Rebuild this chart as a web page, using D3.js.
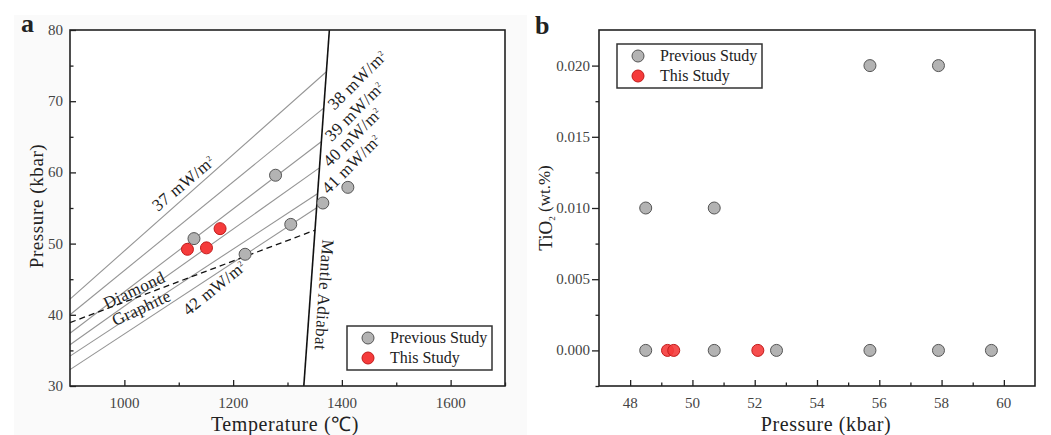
<!DOCTYPE html>
<html>
<head>
<meta charset="utf-8">
<script src="https://cdn.jsdelivr.net/npm/d3@7"></script>
<style>
  body { margin: 0; background: #fff; }
  svg text { font-family: "Liberation Serif", "Times New Roman", serif; fill: #222; }
</style>
</head>
<body>
<div id="chart"></div>
<script>
// panel a: P-T estimates
const prevTemp = [1128, 1222, 1306, 1278, 1365, 1411];
const prevPress = [50.7, 48.5, 52.7, 59.6, 55.7, 57.9];
const thisTemp = [1116, 1151, 1176];
const thisPress = [49.2, 49.4, 52.1];

// geotherms (mW/m2), start at T=900, end on the adiabat
const geoNames = ["37", "38", "39", "40", "41", "42"];
const geoStartP = [42.2, 40.0, 37.4, 35.8, 34.2, 32.3];
const geoEndT = [1371, 1366, 1362, 1358, 1355, 1353];
const geoEndP = [74.1, 69.0, 64.3, 60.6, 57.0, 55.0];

const adiabatT = [1330, 1377];
const adiabatP = [30, 80];
const dgT = [900, 1351];
const dgP = [38.9, 51.9];

const tempTicks = [1000, 1200, 1400, 1600];
const pressTicks = [30, 40, 50, 60, 70, 80];

// panel b: TiO2 vs pressure
const prevBPress = [48.5, 50.7, 55.7, 57.9, 48.5, 50.7, 52.7, 55.7, 57.9, 59.6];
const prevTiO2 = [0.01, 0.01, 0.02, 0.02, 0, 0, 0, 0, 0, 0];
const thisBPress = [49.2, 49.4, 52.1];
const thisTiO2 = [0, 0, 0];

const bPressTicks = [48, 50, 52, 54, 56, 58, 60];
const tio2Ticks = [0, 0.005, 0.010, 0.015, 0.020];

const W = 1051, H = 435;
const grayFill = "#b3b3b3", grayStroke = "#555";
const redFill = "#f53b3b", redStroke = "#c21a1a";

const svg = d3.select("#chart").append("svg")
  .attr("width", W)
  .attr("height", H);

// panel a background
svg.append("rect")
  .attr("x", 14).attr("y", 15)
  .attr("width", 513).attr("height", 420)
  .attr("fill", "#fafafa");

// ---------- panel a ----------
const ax = d3.scaleLinear().domain([900, 1700]).range([70, 505]);
const ay = d3.scaleLinear().domain([30, 80]).range([386, 30]);

const ga = svg.append("g");

ga.append("rect")
  .attr("x", 70).attr("y", 30)
  .attr("width", 435).attr("height", 356)
  .attr("fill", "#fff");

// geotherms
geoNames.forEach((n, i) => {
  ga.append("line")
    .attr("x1", ax(900)).attr("y1", ay(geoStartP[i]))
    .attr("x2", ax(geoEndT[i])).attr("y2", ay(geoEndP[i]))
    .attr("stroke", "#959595")
    .attr("stroke-width", 1.1);
});

// diamond-graphite
ga.append("line")
  .attr("x1", ax(dgT[0])).attr("y1", ay(dgP[0]))
  .attr("x2", ax(dgT[1])).attr("y2", ay(dgP[1]))
  .attr("stroke", "#111")
  .attr("stroke-width", 1.3)
  .attr("stroke-dasharray", "6,4");

// mantle adiabat
ga.append("line")
  .attr("x1", ax(adiabatT[0])).attr("y1", ay(adiabatP[0]))
  .attr("x2", ax(adiabatT[1])).attr("y2", ay(adiabatP[1]))
  .attr("stroke", "#111")
  .attr("stroke-width", 1.6);

// axes (ticks inside)
ga.append("g")
  .attr("transform", "translate(0,386)")
  .call(d3.axisBottom(ax).tickValues(d3.range(1000, 1701, 100)).tickSize(-6).tickFormat(""))
  .call(g => g.selectAll(".tick line").filter(d => d % 200 !== 0).attr("y2", -3.5));
ga.append("g")
  .attr("transform", "translate(70,0)")
  .call(d3.axisLeft(ay).tickValues(d3.range(30, 81, 5)).tickSize(-6).tickFormat(""))
  .call(g => g.selectAll(".tick line").filter(d => d % 10 !== 0).attr("x2", 3.5));
ga.selectAll(".domain").remove();
ga.selectAll(".tick line").attr("stroke", "#222").attr("stroke-width", 1.3);

ga.append("rect")
  .attr("x", 70).attr("y", 30)
  .attr("width", 435).attr("height", 356)
  .attr("fill", "none")
  .attr("stroke", "#222")
  .attr("stroke-width", 1.6);

ga.selectAll(".xlab").data(tempTicks).enter().append("text")
  .attr("x", d => ax(d)).attr("y", 408)
  .attr("text-anchor", "middle")
  .style("font-size", "15px")
  .style("fill", "#444")
  .text(d => d);
ga.selectAll(".ylab").data(pressTicks).enter().append("text")
  .attr("x", 63).attr("y", d => ay(d) + 5)
  .attr("text-anchor", "end")
  .style("font-size", "15px")
  .style("fill", "#444")
  .text(d => d);

// geotherm labels
const geoLabelT = [1108, 1428, 1423, 1419, 1417, 1165];
const geoLabelP = [58.5, 73.0, 68.6, 65.0, 61.2, 43.8];
const geoLabelA = [-40, -45, -45, -45, -45, -39];
geoNames.forEach((n, i) => {
  const t = ga.append("text")
    .attr("transform", `translate(${ax(geoLabelT[i])},${ay(geoLabelP[i])}) rotate(${geoLabelA[i]})`)
    .attr("text-anchor", "middle")
    .attr("dy", "0.35em")
    .style("font-size", "17px")
    .style("letter-spacing", "0.4px");
  t.append("tspan").text(n + " mW/m");
  t.append("tspan").attr("dy", "-0.7em").style("font-size", "8px").text("2");
});

function note(txt, T, P, angle, size) {
  ga.append("text")
    .attr("transform", `translate(${ax(T)},${ay(P)}) rotate(${angle})`)
    .attr("text-anchor", "middle")
    .attr("dy", "0.35em")
    .style("font-size", size + "px")
    .style("letter-spacing", "0.4px")
    .text(txt);
}
note("Diamond", 1018, 43.5, -25, 17);
note("Graphite", 1031, 41.0, -25, 17);
note("Mantle Adiabat", 1368, 42.8, 94, 17);

// points
ga.selectAll(".prev").data(prevTemp).enter().append("circle")
  .attr("cx", d => ax(d))
  .attr("cy", (d, i) => ay(prevPress[i]))
  .attr("r", 6)
  .attr("fill", grayFill).attr("stroke", grayStroke).attr("stroke-width", 1);
ga.selectAll(".this").data(thisTemp).enter().append("circle")
  .attr("cx", d => ax(d))
  .attr("cy", (d, i) => ay(thisPress[i]))
  .attr("r", 6)
  .attr("fill", redFill).attr("stroke", redStroke).attr("stroke-width", 1);

function legend(g, x, y) {
  g.append("rect")
    .attr("x", x).attr("y", y)
    .attr("width", 145).attr("height", 44)
    .attr("fill", "#fff")
    .attr("stroke", "#333")
    .attr("stroke-width", 1.5);
  [["Previous Study", grayFill, grayStroke], ["This Study", redFill, redStroke]].forEach((s, i) => {
    g.append("circle")
      .attr("cx", x + 21).attr("cy", y + 12 + i * 20)
      .attr("r", 6)
      .attr("fill", s[1]).attr("stroke", s[2]);
    g.append("text")
      .attr("x", x + 43).attr("y", y + 17 + i * 20)
      .style("font-size", "16px")
      .text(s[0]);
  });
}
legend(ga, 347, 326);

ga.append("text")
  .attr("transform", "translate(43,206) rotate(-90)")
  .attr("text-anchor", "middle")
  .style("font-size", "19px")
  .style("letter-spacing", "0.6px")
  .text("Pressure (kbar)");
ga.append("text")
  .attr("x", 285).attr("y", 431)
  .attr("text-anchor", "middle")
  .style("font-size", "20px")
  .style("letter-spacing", "0.6px")
  .text("Temperature (℃)");

svg.append("text")
  .attr("x", 21).attr("y", 32)
  .style("font-size", "26px").style("font-weight", "bold")
  .text("a");

// ---------- panel b ----------
const bx = d3.scaleLinear().domain([47, 61]).range([599, 1035]);
const by = d3.scaleLinear().domain([-0.0025, 0.0225]).range([386, 30]);

const gb = svg.append("g");

gb.append("g")
  .attr("transform", "translate(0,386)")
  .call(d3.axisBottom(bx).tickValues(d3.range(48, 61, 1)).tickSize(-6).tickFormat(""))
  .call(g => g.selectAll(".tick line").filter(d => d % 2 !== 0).attr("y2", -3.5));
gb.append("g")
  .attr("transform", "translate(599,0)")
  .call(d3.axisLeft(by).tickValues(d3.range(-1, 9).map(k => k * 0.0025)).tickSize(7).tickFormat(""))
  .call(g => g.selectAll(".tick line").filter((d, i) => i % 2 === 0).attr("x2", -3.5));
gb.selectAll(".domain").remove();
gb.selectAll(".tick line").attr("stroke", "#222").attr("stroke-width", 1.3);

gb.append("rect")
  .attr("x", 599).attr("y", 30)
  .attr("width", 436).attr("height", 356)
  .attr("fill", "none")
  .attr("stroke", "#222")
  .attr("stroke-width", 1.6);

gb.selectAll(".xlab").data(bPressTicks).enter().append("text")
  .attr("x", d => bx(d)).attr("y", 408)
  .attr("text-anchor", "middle")
  .style("font-size", "15px")
  .style("fill", "#444")
  .text(d => d);
gb.selectAll(".ylab").data(tio2Ticks).enter().append("text")
  .attr("x", 590).attr("y", d => by(d) + 5)
  .attr("text-anchor", "end")
  .style("font-size", "15px")
  .style("fill", "#444")
  .text(d => d.toFixed(3));

gb.selectAll(".prev").data(prevBPress).enter().append("circle")
  .attr("cx", d => bx(d))
  .attr("cy", (d, i) => by(prevTiO2[i]))
  .attr("r", 6)
  .attr("fill", grayFill).attr("stroke", grayStroke).attr("stroke-width", 1);
gb.selectAll(".this").data(thisBPress).enter().append("circle")
  .attr("cx", d => bx(d))
  .attr("cy", (d, i) => by(thisTiO2[i]))
  .attr("r", 6)
  .attr("fill", redFill).attr("stroke", redStroke).attr("stroke-width", 1)
  .attr("fill-opacity", 0.9);

legend(gb, 617, 44);

const yt = gb.append("text")
  .attr("transform", "translate(552,208) rotate(-90)")
  .attr("text-anchor", "middle")
  .style("font-size", "19px");
yt.append("tspan").text("TiO");
yt.append("tspan").attr("dy", "0.3em").style("font-size", "9px").text("2");
yt.append("tspan").attr("dy", "-0.3em").style("font-size", "17px").text(" (wt.%)");

gb.append("text")
  .attr("x", 826).attr("y", 431)
  .attr("text-anchor", "middle")
  .style("font-size", "20px")
  .style("letter-spacing", "0.6px")
  .text("Pressure (kbar)");

svg.append("text")
  .attr("x", 535).attr("y", 34)
  .style("font-size", "26px").style("font-weight", "bold")
  .text("b");
</script>
</body>
</html>
